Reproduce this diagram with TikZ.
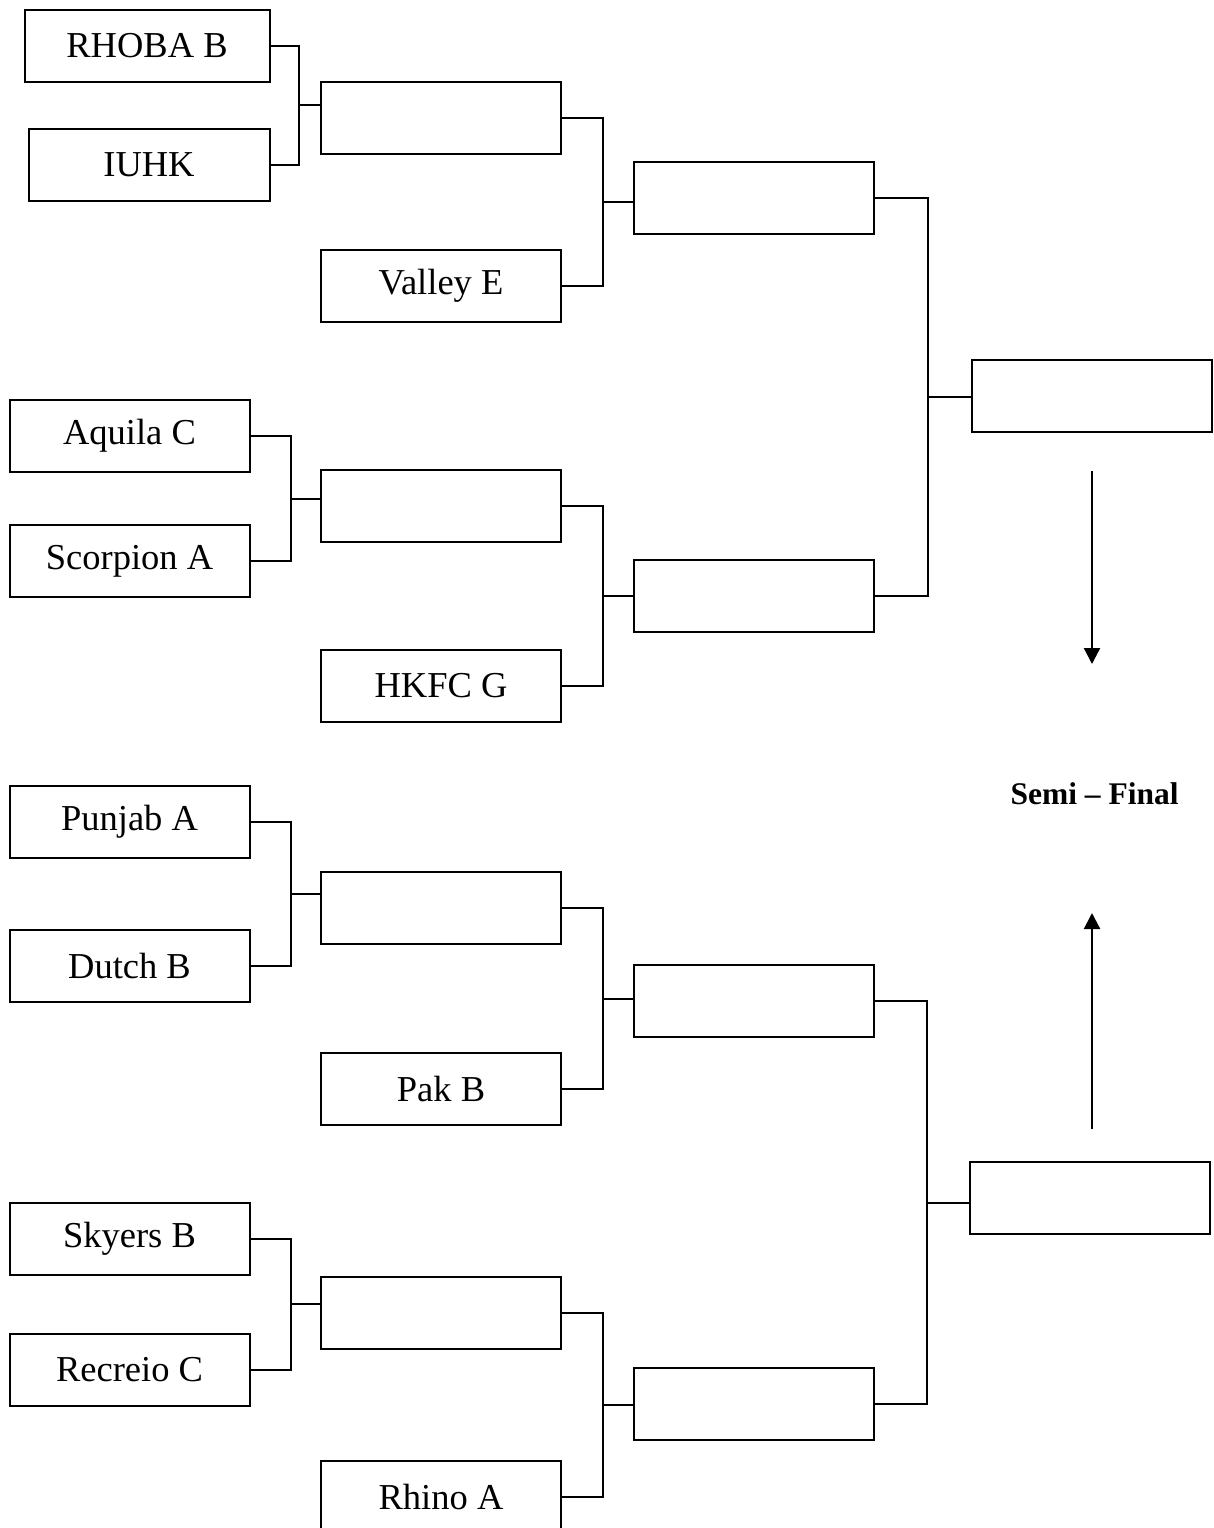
\documentclass[tikz,border=0pt]{standalone}
\usepackage{fontspec}
\setmainfont{Liberation Serif}
\usetikzlibrary{calc,arrows.meta}
\tikzset{
  teambox/.style={draw=black, line width=2pt, minimum width=240pt, minimum height=72pt, inner sep=0pt, font=\fontsize{36.5}{40}\selectfont},
  conn/.style={draw=black, line width=2pt},
  bigarrow/.style={draw=black, line width=2.2pt, -{Triangle[width=16pt,length=16pt]}}
}
\newcommand{\pairjoin}[4]{%
  \coordinate (vx) at (#3,0);
  \draw[conn] (#1.east) -- (#1.east -| vx) -- (#2.east -| vx) -- (#2.east);
  \coordinate (jm) at ($(#1.east -| vx)!0.5!(#2.east -| vx)$);
  \draw[conn] (jm) -- (jm -| #4.west);
}
\begin{document}
\begin{tikzpicture}[x=1pt,y=-1pt]
\useasboundingbox (0,0) rectangle (1213,1528);
% round 1 / round 2 boxes
\node[teambox, minimum width=245pt] (rhoba) at (147,46) {RHOBA B};
\node[teambox, minimum width=241pt] (iuhk) at (149,164.5) {IUHK};
\node[teambox] (r2a) at (441,118) {};
\node[teambox] (valley) at (441,286) {Valley E};
\node[teambox] (r3a) at (753.5,198) {};
\node[teambox] (fa) at (1092,396) {};

\node[teambox] (aquila) at (129.5,436) {Aquila C};
\node[teambox] (scorpion) at (129.5,561) {Scorpion A};
\node[teambox] (r2b) at (441,505.5) {};
\node[teambox] (hkfc) at (441,686) {HKFC G};
\node[teambox] (r3b) at (753.5,596) {};

\node[teambox] (punjab) at (129.5,822) {Punjab A};
\node[teambox] (dutch) at (129.5,966) {Dutch B};
\node[teambox] (r2c) at (441,908) {};
\node[teambox] (pak) at (441,1089) {Pak B};
\node[teambox] (r3c) at (753.5,1001) {};
\node[teambox] (fb) at (1090,1198) {};

\node[teambox] (skyers) at (129.5,1238.5) {Skyers B};
\node[teambox] (recreio) at (129.5,1369.5) {Recreio C};
\node[teambox] (r2d) at (441,1313) {};
\node[teambox] (r3d) at (753.5,1404) {};
\node[teambox] (rhino) at (441,1497) {Rhino A};

% brackets
\pairjoin{rhoba}{iuhk}{299}{r2a}
\pairjoin{r2a}{valley}{603}{r3a}
\pairjoin{aquila}{scorpion}{291}{r2b}
\pairjoin{r2b}{hkfc}{603}{r3b}
\pairjoin{r3a}{r3b}{927.5}{fa}

\pairjoin{punjab}{dutch}{291}{r2c}
\pairjoin{r2c}{pak}{603}{r3c}
\pairjoin{skyers}{recreio}{291}{r2d}
\pairjoin{r2d}{rhino}{603}{r3d}
\pairjoin{r3c}{r3d}{927}{fb}

% semi-final label and arrows
\node[font=\bfseries\fontsize{31.5}{36}\selectfont, inner sep=0pt] (semi) at (1094.5,794) {Semi -- Final};
\coordinate (a1s) at (1092,471);
\coordinate (a1e) at (1092,664);
\coordinate (a2s) at (1092,1129);
\coordinate (a2e) at (1092,913);
\draw[bigarrow] (a1s) -- (a1e);
\draw[bigarrow] (a2s) -- (a2e);
\end{tikzpicture}
\end{document}
